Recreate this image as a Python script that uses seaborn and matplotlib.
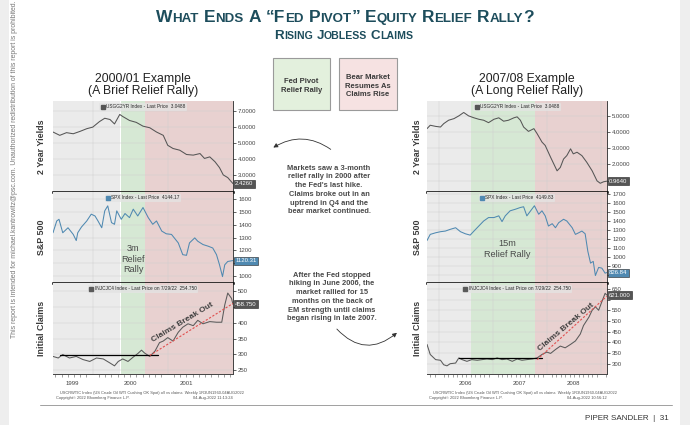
import numpy as np
import pandas as pd
from matplotlib import pyplot as plt
from matplotlib import font_manager
from matplotlib.lines import Line2D
from matplotlib.patches import Rectangle, FancyArrowPatch
import seaborn as sns

# ---------------- data (time in decimal years) ----------------
# 2000/01 example
t_y2_00 = [1999.47, 1999.56, 1999.65, 1999.74, 1999.83, 1999.92, 2000.00, 2000.09, 2000.16, 2000.23,
           2000.29, 2000.36, 2000.40, 2000.49, 2000.58, 2000.67, 2000.76, 2000.85, 2000.94, 2001.00,
           2001.07, 2001.16, 2001.25, 2001.34, 2001.43, 2001.49, 2001.56, 2001.63, 2001.69, 2001.74,
           2001.80, 2001.87]
y2_00 = [5.69, 5.48, 5.65, 5.58, 5.73, 5.90, 6.00, 6.35, 6.56, 6.48,
         6.20, 6.80, 6.67, 6.42, 6.30, 6.06, 5.96, 5.69, 5.48, 4.85,
         4.65, 4.54, 4.27, 4.23, 4.33, 4.02, 4.12, 3.81, 3.44, 2.98,
         2.81, 2.43]

t_spx_00 = [1999.47, 1999.52, 1999.55, 1999.60, 1999.67, 1999.74, 1999.78, 1999.80, 1999.85, 1999.92,
            1999.98, 2000.03, 2000.07, 2000.12, 2000.16, 2000.20, 2000.25, 2000.29, 2000.32, 2000.38,
            2000.43, 2000.49, 2000.54, 2000.60, 2000.67, 2000.74, 2000.80, 2000.85, 2000.92, 2000.98,
            2001.05, 2001.14, 2001.20, 2001.25, 2001.29, 2001.36, 2001.40, 2001.47, 2001.54, 2001.60,
            2001.65, 2001.69, 2001.73, 2001.76, 2001.80, 2001.87]
spx_00 = [1337, 1429, 1442, 1337, 1376, 1324, 1276, 1337, 1382, 1429,
          1482, 1468, 1429, 1376, 1508, 1547, 1416, 1403, 1508, 1442,
          1487, 1455, 1521, 1468, 1534, 1455, 1403, 1429, 1350, 1329,
          1324, 1258, 1166, 1161, 1258, 1297, 1271, 1245, 1232, 1218,
          1166, 1087, 995, 1087, 1113, 1120]

t_cl_00 = [1999.47, 1999.54, 1999.60, 1999.69, 1999.78, 1999.87, 1999.96, 2000.05, 2000.14, 2000.23,
           2000.29, 2000.34, 2000.40, 2000.47, 2000.54, 2000.60, 2000.65, 2000.69, 2000.76, 2000.83,
           2000.89, 2000.94, 2001.00, 2001.07, 2001.14, 2001.20, 2001.27, 2001.34, 2001.40, 2001.47,
           2001.56, 2001.65, 2001.72, 2001.76, 2001.80, 2001.85, 2001.87]
cl_00 = [293, 288, 299, 288, 293, 283, 277, 288, 285, 272,
         263, 277, 285, 277, 291, 302, 313, 304, 293, 310,
         337, 342, 353, 342, 370, 386, 397, 391, 408, 397,
         404, 402, 402, 457, 495, 478, 459]

# 2007/08 example
t_y2_07 = [2005.77, 2005.83, 2005.93, 2006.02, 2006.08, 2006.17, 2006.27, 2006.36, 2006.45, 2006.54,
           2006.64, 2006.73, 2006.82, 2006.91, 2007.01, 2007.10, 2007.19, 2007.28, 2007.38, 2007.44,
           2007.50, 2007.56, 2007.65, 2007.75, 2007.81, 2007.90, 2007.96, 2008.06, 2008.12, 2008.18,
           2008.24, 2008.30, 2008.36, 2008.43, 2008.48, 2008.55, 2008.64, 2008.73, 2008.83, 2008.92,
           2008.98, 2009.04, 2009.10]
y2_07 = [4.21, 4.42, 4.35, 4.31, 4.52, 4.73, 4.83, 5.00, 5.21, 5.00,
         4.88, 4.79, 4.73, 4.58, 4.79, 4.88, 4.67, 4.73, 4.88, 4.94,
         4.73, 4.31, 4.04, 4.21, 3.90, 3.38, 3.17, 2.44, 2.02, 1.60,
         1.81, 2.33, 2.54, 2.96, 2.65, 2.75, 2.54, 2.13, 1.60, 0.98,
         0.83, 0.92, 0.96]

t_spx_07 = [2005.77, 2005.83, 2005.93, 2006.02, 2006.11, 2006.20, 2006.30, 2006.39, 2006.48, 2006.57,
            2006.64, 2006.73, 2006.82, 2006.91, 2007.01, 2007.10, 2007.16, 2007.22, 2007.31, 2007.41,
            2007.50, 2007.56, 2007.62, 2007.69, 2007.76, 2007.84, 2007.90, 2007.96, 2008.02, 2008.09,
            2008.15, 2008.21, 2008.30, 2008.36, 2008.46, 2008.52, 2008.58, 2008.64, 2008.70, 2008.75,
            2008.80, 2008.85, 2008.89, 2008.95, 2009.01, 2009.07, 2009.10]
spx_07 = [1183, 1251, 1269, 1281, 1288, 1307, 1325, 1281, 1258, 1243,
          1288, 1344, 1400, 1438, 1438, 1457, 1393, 1457, 1513, 1531,
          1550, 1558, 1457, 1513, 1569, 1475, 1513, 1457, 1344, 1370,
          1325, 1381, 1419, 1400, 1325, 1251, 1269, 1288, 1258, 1063,
          932, 951, 794, 884, 876, 820, 827]

t_cl_07 = [2005.77, 2005.83, 2005.93, 2006.02, 2006.08, 2006.14, 2006.20, 2006.30, 2006.36, 2006.42,
           2006.51, 2006.60, 2006.70, 2006.79, 2006.88, 2006.98, 2007.07, 2007.16, 2007.25, 2007.35,
           2007.44, 2007.53, 2007.62, 2007.72, 2007.81, 2007.90, 2007.99, 2008.06, 2008.15, 2008.24,
           2008.33, 2008.43, 2008.52, 2008.61, 2008.67, 2008.77, 2008.83, 2008.89, 2008.95, 2009.01,
           2009.07, 2009.10]
cl_07 = [391, 344, 320, 317, 296, 291, 301, 304, 328, 320,
         312, 320, 317, 320, 323, 320, 328, 320, 323, 312,
         323, 317, 320, 323, 328, 344, 355, 349, 367, 383,
         375, 391, 407, 439, 479, 518, 550, 566, 550, 590,
         629, 621]

# regimes: pre-pivot / fed pivot relief rally / bear market resumes
spans_00 = [(1999.47, 2000.37), (2000.37, 2000.69), (2000.69, 2001.87)]
spans_07 = [(2005.77, 2006.59), (2006.59, 2007.78), (2007.78, 2009.105)]
years_00 = ['1999', '2000', '2001']
year_pos_00 = [1999.73, 2000.5, 2001.25]
year_bounds_00 = [2000, 2001]
years_07 = ['2006', '2007', '2008']
year_pos_07 = [2006.48, 2007.48, 2008.48]
year_bounds_07 = [2006, 2007, 2008, 2009]

# claims support line and breakout trend (start, end)
flat_00 = ((1999.56, 296), (2000.87, 296))
trend_00 = ((2000.76, 296), (2001.87, 462))
flat_07 = ((2006.36, 328), (2007.90, 328))
trend_07 = ((2007.81, 320), (2009.10, 615))

# ---------------- style ----------------
sns.set_theme(style='white')
avail = {f.name for f in font_manager.fontManager.ttflist}
NARROW = 'Liberation Sans Narrow' if 'Liberation Sans Narrow' in avail else 'Liberation Sans'
k = 1.0 if NARROW == 'Liberation Sans Narrow' else 0.84
plt.rcParams['font.family'] = [NARROW, 'DejaVu Sans']

W, H = 690, 425
fig = plt.figure(figsize=(W / 100, H / 100), dpi=100)
fig.patch.set_facecolor('white')

GRAY_BG, GREEN_BG, RED_BG = '#ebebeb', '#d6e8d4', '#e8d1d0'
TEAL = '#1d4d5c'
TXT = '#3a3a3a'
rows = [(101, 192), (192, 283), (283, 374)]


def fx(x):
    return x / W


def fy(y):
    return 1 - y / H


# page edges
fig.add_artist(Rectangle((0, 0), fx(9), 1, transform=fig.transFigure, fc='#eeeeee', ec='none'))
fig.add_artist(Rectangle((fx(680), 0), fx(10), 1, transform=fig.transFigure, fc='#eeeeee', ec='none'))
fig.text(fx(15), fy(338), 'This report is intended for michael.kantrowitz@psc.com. Unauthorized redistribution '
         'of this report is prohibited.', rotation=90, rotation_mode='anchor', ha='left', va='center',
         fontsize=5.2 * k + 0.6, color='#777777', family='Liberation Sans')


def small_caps(text, xc, y, big, small):
    r = fig.canvas.get_renderer()
    pieces = []
    for ch in text:
        if ch == ' ':
            pieces.append(('gap', big * 0.28 * 100 / 72))
            continue
        size = small if ch.islower() else big
        if pieces and pieces[-1][0] == 'txt' and pieces[-1][2] == size:
            pieces[-1] = ('txt', pieces[-1][1] + ch.upper(), size)
        else:
            pieces.append(('txt', ch.upper(), size))
    objs = []
    total = 0
    for p in pieces:
        if p[0] == 'gap':
            objs.append((None, p[1]))
            total += p[1]
        else:
            t = fig.text(0, fy(y), p[1], fontsize=p[2], fontweight='bold', color=TEAL,
                         family='Liberation Sans', ha='left', va='baseline')
            w = t.get_window_extent(r).width
            objs.append((t, w))
            total += w
    x = xc - total / 2
    for t, w in objs:
        if t is not None:
            t.set_x(fx(x))
        x += w


small_caps('What Ends A “Fed Pivot” Equity Relief Rally?', 345, 22, 12.5, 9.6)
small_caps('Rising Jobless Claims', 344, 39, 9.6, 7.6)


def draw_panel(x0, x1, xlim, spans, bounds, ypos, ylabs, series, flat, trend, brk, ylab_x):
    for i, (s, (r0, r1)) in enumerate(zip(series, rows)):
        ax = fig.add_axes([fx(x0), fy(r1), (x1 - x0) / W, (r1 - r0) / H])
        for (a, b), c in zip(spans, [GRAY_BG, GREEN_BG, RED_BG]):
            ax.axvspan(a, b, color=c, lw=0, zorder=0)
        sns.lineplot(x=s['t'], y=s['v'], ax=ax, color=s['color'], lw=0.75, zorder=3)
        ax.set_xlim(xlim)
        ax.set_ylim(s['ylim'])
        ax.set_yticks(s['ticks'])
        step = s['ticks'][1] - s['ticks'][0]
        # the last-price tag covers the tick label next to it
        ax.set_yticklabels(['' if abs(v - s['last']) < 0.5 * step else s['fmt'].format(v)
                            for v in s['ticks']])
        ax.yaxis.tick_right()
        ax.tick_params(axis='y', direction='out', length=2.5, width=0.5, color='#222',
                       labelsize=4.3, labelcolor='#444', pad=1.2)
        ax.set_xticks(bounds)
        ax.grid(True, color='#cfcfcf', lw=0.35)
        ax.set_axisbelow(True)
        ax.set_xlabel('')
        ax.set_ylabel('')
        for sp in ['top', 'left']:
            ax.spines[sp].set_visible(False)
        ax.spines['right'].set_color('#222')
        ax.spines['right'].set_linewidth(0.6)
        ax.legend(handles=[Line2D([0], [0], marker='s', ls='none', color=s['color'], markersize=2.2)],
                  labels=[s['legend']], loc='upper center', fontsize=3.4, frameon=True,
                  facecolor='#e4e4e4', edgecolor='none', framealpha=0.75, handletextpad=0.3,
                  borderpad=0.35, borderaxespad=0.35, handlelength=0.8,
                  prop={'family': 'Liberation Sans', 'size': 3.4})
        ax.text(1.012, s['last'], s['tag'], transform=ax.get_yaxis_transform(), ha='left', va='center',
                fontsize=4.3, color='white', family='Liberation Sans', zorder=6, clip_on=False,
                bbox=dict(boxstyle='square,pad=0.25', fc=s['tagc'], ec='#222222', lw=0.4))
        fig.text(fx(ylab_x), fy((r0 + r1) / 2), s['ylabel'], rotation=90, ha='center', va='center',
                 fontsize=7.6 * k, fontweight='bold', color=TXT)
        if i < 2:
            ax.tick_params(axis='x', length=0, labelbottom=False)
            ax.spines['bottom'].set_color('black')
            ax.spines['bottom'].set_linewidth(1.8)
            ax.spines['bottom'].set_zorder(5)
        else:
            ax.set_xticklabels([])
            ax.set_xticks(np.arange(np.ceil(xlim[0] * 12) / 12, xlim[1], 1 / 12), minor=True)
            ax.tick_params(axis='x', which='major', direction='out', length=15, width=0.6, color='#555')
            ax.tick_params(axis='x', which='minor', direction='out', length=2, width=0.4, color='#555',
                           bottom=True)
            ax.spines['bottom'].set_color('#444')
            ax.spines['bottom'].set_linewidth(0.7)
            for p, lab in zip(ypos, ylabs):
                ax.text(p, -0.1, lab, transform=ax.get_xaxis_transform(), ha='center', va='center',
                        fontsize=4.3, color='#444', family='Liberation Sans')
            ax.plot([flat[0][0], flat[1][0]], [flat[0][1], flat[1][1]], color='black', lw=0.9, zorder=4)
            ax.plot([trend[0][0], trend[1][0]], [trend[0][1], trend[1][1]], color='#e0504f', lw=0.8,
                    ls=(0, (2, 1.5)), zorder=4)
            ax.text(brk[0], brk[1], 'Claims Break Out', rotation=brk[2], rotation_mode='anchor',
                    ha='center', va='center', fontsize=7.2 * k, fontweight='bold', color='#404040', zorder=5)


SPX_BLUE = '#4f89b1'
series_00 = [
    dict(t=t_y2_00, v=y2_00, color='#555555', ylim=(1.9, 7.65), ticks=[3, 4, 5, 6, 7], fmt='{:.4f}',
         legend='USGG2YR Index - Last Price  3.0488', last=2.426, tag='2.4260', tagc='#555555',
         ylabel='2 Year Yields'),
    dict(t=t_spx_00, v=spx_00, color=SPX_BLUE, ylim=(945, 1655), ticks=list(range(1000, 1700, 100)),
         fmt='{:d}', legend='SPX Index - Last Price  4144.17', last=1120.31, tag='1120.31',
         tagc=SPX_BLUE, ylabel='S&P 500'),
    dict(t=t_cl_00, v=cl_00, color='#5a5a5a', ylim=(237, 527), ticks=list(range(250, 550, 50)),
         fmt='{:d}', legend='INJCJC4 Index - Last Price on 7/29/22  254.750', last=458.75,
         tag='458.750', tagc='#555555', ylabel='Initial Claims'),
]
series_07 = [
    dict(t=t_y2_07, v=y2_07, color='#555555', ylim=(0.29, 5.92), ticks=[1, 2, 3, 4, 5], fmt='{:.4f}',
         legend='USGG2YR Index - Last Price  3.0488', last=0.964, tag='0.9640', tagc='#555555',
         ylabel='2 Year Yields'),
    dict(t=t_spx_07, v=spx_07, color=SPX_BLUE, ylim=(711, 1722), ticks=list(range(800, 1800, 100)),
         fmt='{:d}', legend='SPX Index - Last Price  4149.83', last=826.84, tag='826.84',
         tagc=SPX_BLUE, ylabel='S&P 500'),
    dict(t=t_cl_07, v=cl_07, color='#5a5a5a', ylim=(253, 677), ticks=list(range(300, 700, 50)),
         fmt='{:d}', legend='INJCJC4 Index - Last Price on 7/29/22  254.750', last=621,
         tag='621.000', tagc='#555555', ylabel='Initial Claims'),
]

draw_panel(53, 233, (1999.47, 2001.87), spans_00, year_bounds_00, year_pos_00, years_00, series_00,
           flat_00, trend_00, (2001.2, 402, 31), 42)
draw_panel(427, 607, (2005.77, 2009.105), spans_07, year_bounds_07, year_pos_07, years_07, series_07,
           flat_07, trend_07, (2008.35, 472, 40), 418)

# panel titles
fig.text(fx(143), fy(85), '2000/01 Example\n(A Brief Relief Rally)', ha='center', va='center',
         fontsize=10.5 * k, color='#222222', linespacing=1.05)
fig.text(fx(527), fy(85), '2007/08 Example\n(A Long Relief Rally)', ha='center', va='center',
         fontsize=10.5 * k, color='#222222', linespacing=1.05)

# regime key boxes
fig.add_artist(Rectangle((fx(273), fy(110)), fx(57), 52 / H, transform=fig.transFigure,
                         fc='#e3f0dd', ec='#9a9a9a', lw=0.8))
fig.add_artist(Rectangle((fx(339), fy(110)), fx(58), 52 / H, transform=fig.transFigure,
                         fc='#f6e2e2', ec='#9a9a9a', lw=0.8))
fig.text(fx(301.5), fy(86), 'Fed Pivot\nRelief Rally', ha='center', va='center', fontsize=6.6 * k,
         fontweight='bold', color=TXT, linespacing=1.3)
fig.text(fx(368), fy(86), 'Bear Market\nResumes As\nClaims Rise', ha='center', va='center',
         fontsize=6.6 * k, fontweight='bold', color=TXT, linespacing=1.3)

# commentary
fig.text(fx(329), fy(190), "Markets saw a 3-month\nrelief rally in 2000 after\nthe Fed's last hike.\n"
         "Claims broke out in an\nuptrend in Q4 and the\nbear market continued.", ha='center',
         va='center', fontsize=6.4 * k, fontweight='bold', color='#4a4a4a', linespacing=1.35)
fig.text(fx(332), fy(297), "After the Fed stopped\nhiking in June 2006, the\nmarket rallied for 15\n"
         "months on the back of\nEM strength until claims\nbegan rising in late 2007.", ha='center',
         va='center', fontsize=6.4 * k, fontweight='bold', color='#4a4a4a', linespacing=1.35)
fig.add_artist(FancyArrowPatch((fx(333), fy(151)), (fx(271), fy(149)), transform=fig.transFigure,
                               connectionstyle='arc3,rad=0.35', arrowstyle='-|>,head_length=2.5,head_width=1.3',
                               lw=0.6, color='#333333'))
fig.add_artist(FancyArrowPatch((fx(335), fy(327)), (fx(399), fy(331)), transform=fig.transFigure,
                               connectionstyle='arc3,rad=0.5', arrowstyle='-|>,head_length=2.5,head_width=1.3',
                               lw=0.6, color='#333333'))

fig.text(fx(133), fy(259), '3m\nRelief\nRally', ha='center', va='center', fontsize=7.8 * k,
         color='#4a4a4a', linespacing=1.2)
fig.text(fx(507), fy(249), '15m\nRelief Rally', ha='center', va='center', fontsize=7.8 * k,
         color='#4a4a4a', linespacing=1.2)

# bloomberg footers
for xl, xr, stamp in [(60, 233, '04-Aug-2022 11:13:24'), (433, 607, '04-Aug-2022 10:56:12')]:
    fig.text(fx(xl), fy(393), 'USCRWTIC Index (US Crude Oil WTI Cushing OK Spot) o/l vs claims  '
             'Weekly 1R3UN1960-04AUG2022', fontsize=2.9, color='#555555', va='center',
             family='Liberation Sans')
    fig.text(fx(xl - 4), fy(398), 'Copyright© 2022 Bloomberg Finance L.P.', fontsize=2.9,
             color='#555555', va='center', family='Liberation Sans')
    fig.text(fx(xr), fy(398), stamp, fontsize=2.9, color='#555555', va='center', ha='right',
             family='Liberation Sans')

# page footer
fig.add_artist(Line2D([fx(40), fx(672)], [fy(405), fy(405)], transform=fig.transFigure,
                      color='#a0a0a0', lw=0.7))
fig.text(fx(669), fy(418), 'PIPER SANDLER  |  31', ha='right', va='center', fontsize=5.8,
         color='#333333', family='Liberation Sans')

fig.savefig('out.png', dpi=100, facecolor='white')
